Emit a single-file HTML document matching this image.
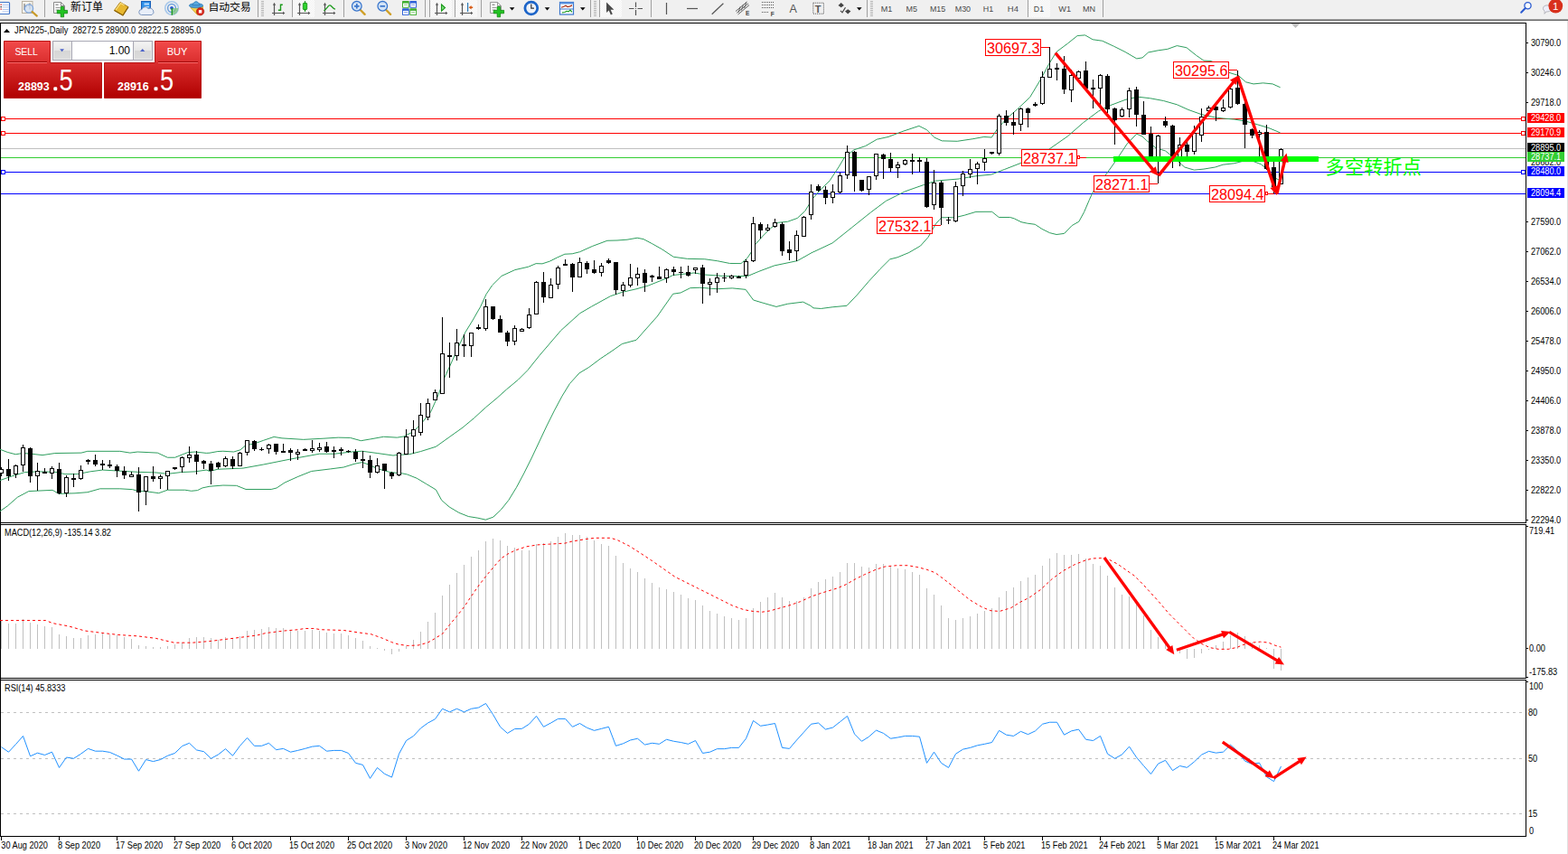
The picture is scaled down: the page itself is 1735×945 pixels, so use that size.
<!DOCTYPE html>
<html><head><meta charset="utf-8"><title>JPN225 Daily</title>
<style>html,body{margin:0;padding:0;background:#fff;overflow:hidden}body{width:1735px;height:945px;position:relative;font-family:"Liberation Sans",sans-serif}</style>
</head><body>
<svg width="1735" height="945" viewBox="0 0 1735 945" style="position:absolute;left:0;top:0;font-family:'Liberation Sans',sans-serif">
<defs><linearGradient id="rg" x1="0" y1="0" x2="0" y2="1"><stop offset="0" stop-color="#f24a4a"/><stop offset="0.35" stop-color="#dc3030"/><stop offset="1" stop-color="#b00000"/></linearGradient><linearGradient id="bg" x1="0" y1="0" x2="0" y2="1"><stop offset="0" stop-color="#f4f4f4"/><stop offset="0.5" stop-color="#e6e6e6"/><stop offset="0.5" stop-color="#d6d6d6"/><stop offset="1" stop-color="#dcdcdc"/></linearGradient><pattern id="chk" width="2" height="2" patternUnits="userSpaceOnUse"><rect width="2" height="2" fill="#f0f0f0"/><rect width="1" height="1" fill="#fff"/><rect x="1" y="1" width="1" height="1" fill="#fff"/></pattern></defs>
<rect width="1735" height="945" fill="#fff"/>
<g shape-rendering="crispEdges" fill="#000">
<rect x="0" y="25" width="1689" height="1"/>
<rect x="0" y="25" width="1" height="901"/>
<rect x="1688" y="25" width="1" height="554"/>
<rect x="1688" y="580" width="1" height="171"/>
<rect x="1688" y="752" width="1" height="174"/>
<rect x="0" y="578" width="1689" height="1"/>
<rect x="0" y="580" width="1689" height="1"/>
<rect x="0" y="750" width="1689" height="1"/>
<rect x="0" y="752" width="1689" height="1"/>
<rect x="0" y="925" width="1689" height="1"/>
</g>
<rect x="1734" y="23" width="1" height="922" fill="#e0e0e0"/>
<polygon points="1428.5,26 1438.5,26 1433.5,31" fill="#c0c0c0"/>
<g shape-rendering="crispEdges">
<rect x="1" y="131" width="1687" height="1" fill="#ff0000"/>
<rect x="1" y="147" width="1687" height="1" fill="#ff0000"/>
<rect x="1" y="164" width="1687" height="1" fill="#c0c0c0"/>
<rect x="1" y="174" width="1687" height="1" fill="#32cd32"/>
<rect x="1" y="190" width="1687" height="1" fill="#0000ff"/>
<rect x="1" y="214" width="1687" height="1" fill="#0000ff"/>
</g>
<polyline points="0,497.25 8.3,500.43 17.29,502.78 24.9,501.54 33.2,502.09 47.03,503.61 60.86,501.54 89.91,501.12 96.83,499.33 132.8,499.33 143.86,501.12 152.16,500.02 174.29,501.12 185.36,506.24 193.66,506.24 207.49,500.71 215.79,500.02 228.24,501.4 232,501.19 240.89,499.56 246.81,499.26 258.67,500 266.07,497.78 272,492.59 280.89,491.11 291.26,487.41 303.11,483.41 312,484.89 335.7,486.37 357.93,485.19 374.22,484.15 387.56,484.44 399.41,487.7 409.78,485.93 424.59,483.26 439.41,484.15 446.81,482.96 457.19,477.78 463.11,471.85 468.23,466.24 476.7,455.66 485.16,436.61 491.51,418.62 497.86,404.87 506.33,385.82 514.79,367.83 523.26,354.07 531.72,339.26 538.07,325.5 544.42,315.98 555.01,305.4 569.82,298.62 584.63,295.24 593.1,291.64 600,291.87 608.3,289.11 616.6,284.96 624.9,281.22 633.2,280.81 641.5,278.73 655.33,272.51 671.93,266.28 683,266.01 694.06,265.18 705.13,263.24 712.05,264.62 721.73,269.74 732.8,275.97 745.24,284.27 760.46,286.34 779.83,286.76 793.66,288.69 807.49,291.46 819.94,291.6 826.86,285.65 832.39,277.35 835.68,270.63 844.15,261.11 852.61,252.65 861.08,246.3 871.66,245.24 882.24,241.43 890.71,233.6 899.17,219.84 907.64,210.32 918.22,199.74 928,184.87 934.35,174.29 944.93,165.82 957.63,161.59 970.33,154.18 983.03,151.43 997.84,145.71 1016.89,139.37 1025.35,143.6 1033.82,152.06 1042.29,155.87 1059.22,156.3 1076.15,153.76 1088.85,151.43 1097.31,152.06 1103.66,142.54 1114.24,130.9 1126.94,119.68 1139.64,107.62 1151.96,87.14 1160.42,71.27 1168.89,57.51 1181.59,47.99 1192.17,39.52 1200.63,38.89 1209.1,43.76 1219.68,45.24 1232.38,51.16 1245.08,57.51 1257.78,64.92 1264.13,63.86 1270.58,57.99 1281.16,55.87 1291.75,54.39 1302.33,50.58 1312.91,52.7 1323.49,61.16 1331.96,67.09 1340.42,67.51 1351.01,74.92 1359.47,80.21 1370.05,83.39 1378.52,90.79 1386.98,92.91 1397.57,91.85 1408.15,92.91 1416.61,96.72" fill="none" stroke="#2e9e5e" stroke-width="1"/>
<polyline points="0,531.56 13.83,526.71 27.67,522.56 41.5,521.87 60.86,522.29 71.93,524.64 85.76,524.64 99.6,521.87 113.43,520.07 138.33,521.46 152.16,522.29 172.91,522.98 185.36,524.36 200.58,522.56 215.79,521.87 228.24,520.07 232,521.48 240.89,519.26 269.04,518.07 291.26,514.07 320.89,508.15 353.48,502.22 369.78,502.22 392,499.7 400.89,499.26 417.19,501.48 434.96,504 440,503.39 452.7,502.75 465.4,499.58 482.33,494.29 497.14,483.7 511.96,473.12 524.66,462.54 537.35,450.9 550.05,440.32 560.63,430.79 573.33,420.21 583.92,409.63 596.61,393.76 620.61,365.71 641.78,346.67 654.48,339.26 675.64,327.62 688.34,323.39 704,319.79 717.16,316.14 738.33,307.67 744.68,304.5 767.96,301.96 780.66,304.07 801.82,305.56 827.22,305.56 839.92,300.26 856.85,293.92 882.24,288.62 899.17,279.1 900,278.84 921.16,268.89 942.33,251.96 963.49,235.03 980.42,222.33 1001.59,211.75 1022.75,204.34 1035.45,200.11 1060.85,197.99 1079.89,194.81 1096.83,193.12 1111.64,187.41 1129.06,180.63 1150.22,170.05 1160.42,165.45 1181.59,150.63 1198.52,135.82 1215.45,123.12 1228.15,116.77 1245.08,110.42 1255.66,107.88 1260,107.3 1272.7,108.78 1287.51,111.53 1302.33,115.77 1315.03,121.48 1329.84,126.77 1344.66,129.95 1353.12,131.01 1365.82,132.06 1378.52,134.18 1391.22,137.78 1403.92,141.59 1416.61,146.88" fill="none" stroke="#2e9e5e" stroke-width="1"/>
<polyline points="0,565.72 8.3,559.91 19.37,550.23 31.82,543.59 58.1,542.35 65.01,546.36 83,545.8 96.83,544.7 110.66,540.82 132.8,540.82 146.63,541.65 152.16,543.31 163.23,544.01 175.68,545.67 185.36,542.21 204.73,542.21 211.64,543.31 218.56,542.62 224.09,539.86 232,538.22 246.81,537.04 261.63,537.33 272,541.48 300.15,541.48 306.07,540 314.96,534.07 329.78,527.41 344.59,521.48 365.33,518.96 380.15,517.04 392,513.33 400.89,511.56 409.78,514.81 417.19,518.52 430.52,522.22 439.41,523.41 440,522.86 450.58,524.97 461.16,529.21 471.75,535.56 482.33,541.9 488.68,553.54 497.14,560.95 507.72,567.3 518.31,571.53 528.89,573.23 537.35,575.13 545.82,572.17 554.29,564.13 562.75,553.54 571.22,539.79 579.68,523.92 588.15,506.98 596.61,488.99 605.08,471.01 613.54,454.07 622.01,438.2 630.48,424.44 641.06,412.8 651.64,406.46 664.34,396.93 677.04,388.47 688.34,380.53 704,376.3 727.32,350 744.68,325.24 753.14,323.97 763.72,318.68 774.31,318.25 793.35,319.74 810.29,318.89 825.1,320.37 833.57,332.01 844.15,335.19 858.96,339.42 871.66,336.24 888.59,334.13 897.06,338.36 900,340.85 908.47,341.48 921.16,339.79 937.04,338.31 948.68,326.03 961.38,311.22 974.07,297.46 984.66,286.88 993.12,284.76 1005.82,279.47 1018.52,272.06 1026.98,262.54 1035.45,247.72 1041.8,240.74 1056.61,240.74 1067.2,238.2 1079.89,234.39 1090,234.29 1097.62,234.29 1105.24,240.48 1117.62,240.48 1122.38,241.9 1130,245.71 1136.67,247.14 1145.24,248.29 1152.86,253.33 1161.43,257.62 1169.05,259.52 1177.62,258.38 1186.19,249.52 1193.81,245.24 1199.52,234.76 1205.24,221.43 1209.05,212.86 1223.92,192.96 1234.5,178.15 1247.2,159.1 1257.78,148.1 1264.13,151.06 1268.47,155.34 1279.05,163.81 1289.63,166.98 1295.98,172.28 1302.33,177.57 1310.79,184.97 1321.38,188.15 1331.96,187.09 1344.66,184.97 1353.12,182.22 1365.82,180.74 1374.29,178.62 1386.98,178.62 1395.45,181.8 1401.8,187.09 1408.15,195.56 1416.61,199.79" fill="none" stroke="#2e9e5e" stroke-width="1"/>
<g shape-rendering="crispEdges">
<rect x="1" y="517" width="1" height="10" fill="#000"/>
<rect x="-1" y="519" width="5" height="5" fill="#000"/>
<rect x="0" y="520" width="3" height="3" fill="#fff"/>
<rect x="9" y="508" width="1" height="24" fill="#000"/>
<rect x="7" y="519" width="5" height="8" fill="#000"/>
<rect x="17" y="514" width="1" height="15" fill="#000"/>
<rect x="15" y="515" width="5" height="10" fill="#000"/>
<rect x="16" y="516" width="3" height="8" fill="#fff"/>
<rect x="25" y="492" width="1" height="30" fill="#000"/>
<rect x="23" y="495" width="5" height="20" fill="#000"/>
<rect x="24" y="496" width="3" height="18" fill="#fff"/>
<rect x="33" y="495" width="1" height="39" fill="#000"/>
<rect x="31" y="496" width="5" height="31" fill="#000"/>
<rect x="41" y="512" width="1" height="31" fill="#000"/>
<rect x="39" y="521" width="5" height="6" fill="#000"/>
<rect x="40" y="522" width="3" height="4" fill="#fff"/>
<rect x="49" y="518" width="1" height="6" fill="#000"/>
<rect x="47" y="522" width="5" height="2" fill="#000"/>
<rect x="57" y="516" width="1" height="14" fill="#000"/>
<rect x="55" y="518" width="5" height="6" fill="#000"/>
<rect x="56" y="519" width="3" height="4" fill="#fff"/>
<rect x="65" y="512" width="1" height="35" fill="#000"/>
<rect x="63" y="519" width="5" height="27" fill="#000"/>
<rect x="73" y="526" width="1" height="24" fill="#000"/>
<rect x="71" y="528" width="5" height="18" fill="#000"/>
<rect x="72" y="529" width="3" height="16" fill="#fff"/>
<rect x="81" y="524" width="1" height="15" fill="#000"/>
<rect x="79" y="529" width="5" height="2" fill="#000"/>
<rect x="89" y="515" width="1" height="16" fill="#000"/>
<rect x="87" y="520" width="5" height="10" fill="#000"/>
<rect x="88" y="521" width="3" height="8" fill="#fff"/>
<rect x="97" y="508" width="1" height="6" fill="#000"/>
<rect x="95" y="509" width="5" height="2" fill="#000"/>
<rect x="105" y="503" width="1" height="13" fill="#000"/>
<rect x="103" y="509" width="5" height="5" fill="#000"/>
<rect x="113" y="509" width="1" height="11" fill="#000"/>
<rect x="111" y="513" width="5" height="2" fill="#000"/>
<rect x="121" y="509" width="1" height="9" fill="#000"/>
<rect x="119" y="514" width="5" height="2" fill="#000"/>
<rect x="129" y="514" width="1" height="14" fill="#000"/>
<rect x="127" y="516" width="5" height="5" fill="#000"/>
<rect x="137" y="516" width="1" height="14" fill="#000"/>
<rect x="135" y="521" width="5" height="5" fill="#000"/>
<rect x="145" y="522" width="1" height="6" fill="#000"/>
<rect x="143" y="525" width="5" height="3" fill="#000"/>
<rect x="144" y="526" width="3" height="1" fill="#fff"/>
<rect x="153" y="517" width="1" height="49" fill="#000"/>
<rect x="151" y="525" width="5" height="20" fill="#000"/>
<rect x="161" y="527" width="1" height="32" fill="#000"/>
<rect x="159" y="527" width="5" height="17" fill="#000"/>
<rect x="160" y="528" width="3" height="15" fill="#fff"/>
<rect x="169" y="516" width="1" height="17" fill="#000"/>
<rect x="167" y="527" width="5" height="3" fill="#000"/>
<rect x="177" y="525" width="1" height="16" fill="#000"/>
<rect x="175" y="527" width="5" height="3" fill="#000"/>
<rect x="176" y="528" width="3" height="1" fill="#fff"/>
<rect x="185" y="521" width="1" height="21" fill="#000"/>
<rect x="183" y="521" width="5" height="6" fill="#000"/>
<rect x="184" y="522" width="3" height="4" fill="#fff"/>
<rect x="193" y="517" width="1" height="3" fill="#000"/>
<rect x="191" y="517" width="5" height="2" fill="#000"/>
<rect x="201" y="505" width="1" height="18" fill="#000"/>
<rect x="199" y="506" width="5" height="11" fill="#000"/>
<rect x="200" y="507" width="3" height="9" fill="#fff"/>
<rect x="209" y="494" width="1" height="18" fill="#000"/>
<rect x="207" y="503" width="5" height="4" fill="#000"/>
<rect x="208" y="504" width="3" height="2" fill="#fff"/>
<rect x="217" y="499" width="1" height="26" fill="#000"/>
<rect x="215" y="503" width="5" height="8" fill="#000"/>
<rect x="225" y="509" width="1" height="10" fill="#000"/>
<rect x="223" y="510" width="5" height="3" fill="#000"/>
<rect x="233" y="510" width="1" height="26" fill="#000"/>
<rect x="231" y="513" width="5" height="8" fill="#000"/>
<rect x="241" y="511" width="1" height="8" fill="#000"/>
<rect x="239" y="512" width="5" height="5" fill="#000"/>
<rect x="249" y="505" width="1" height="12" fill="#000"/>
<rect x="247" y="507" width="5" height="9" fill="#000"/>
<rect x="248" y="508" width="3" height="7" fill="#fff"/>
<rect x="257" y="505" width="1" height="14" fill="#000"/>
<rect x="255" y="508" width="5" height="8" fill="#000"/>
<rect x="265" y="500" width="1" height="16" fill="#000"/>
<rect x="263" y="501" width="5" height="15" fill="#000"/>
<rect x="264" y="502" width="3" height="13" fill="#fff"/>
<rect x="273" y="487" width="1" height="17" fill="#000"/>
<rect x="271" y="487" width="5" height="14" fill="#000"/>
<rect x="272" y="488" width="3" height="12" fill="#fff"/>
<rect x="281" y="487" width="1" height="12" fill="#000"/>
<rect x="279" y="488" width="5" height="9" fill="#000"/>
<rect x="289" y="495" width="1" height="4" fill="#000"/>
<rect x="287" y="497" width="5" height="1" fill="#000"/>
<rect x="297" y="491" width="1" height="11" fill="#000"/>
<rect x="295" y="492" width="5" height="5" fill="#000"/>
<rect x="296" y="493" width="3" height="3" fill="#fff"/>
<rect x="305" y="491" width="1" height="12" fill="#000"/>
<rect x="303" y="491" width="5" height="9" fill="#000"/>
<rect x="313" y="491" width="1" height="10" fill="#000"/>
<rect x="311" y="499" width="5" height="2" fill="#000"/>
<rect x="321" y="496" width="1" height="14" fill="#000"/>
<rect x="319" y="498" width="5" height="3" fill="#000"/>
<rect x="329" y="497" width="1" height="12" fill="#000"/>
<rect x="327" y="500" width="5" height="3" fill="#000"/>
<rect x="328" y="501" width="3" height="1" fill="#fff"/>
<rect x="337" y="496" width="1" height="3" fill="#000"/>
<rect x="335" y="497" width="5" height="2" fill="#000"/>
<rect x="345" y="487" width="1" height="14" fill="#000"/>
<rect x="343" y="496" width="5" height="3" fill="#000"/>
<rect x="344" y="497" width="3" height="1" fill="#fff"/>
<rect x="353" y="490" width="1" height="10" fill="#000"/>
<rect x="351" y="495" width="5" height="3" fill="#000"/>
<rect x="352" y="496" width="3" height="1" fill="#fff"/>
<rect x="361" y="489" width="1" height="12" fill="#000"/>
<rect x="359" y="494" width="5" height="6" fill="#000"/>
<rect x="369" y="494" width="1" height="13" fill="#000"/>
<rect x="367" y="498" width="5" height="2" fill="#000"/>
<rect x="377" y="495" width="1" height="9" fill="#000"/>
<rect x="375" y="497" width="5" height="2" fill="#000"/>
<rect x="385" y="498" width="1" height="3" fill="#000"/>
<rect x="383" y="499" width="5" height="1" fill="#000"/>
<rect x="393" y="497" width="1" height="14" fill="#000"/>
<rect x="391" y="500" width="5" height="8" fill="#000"/>
<rect x="401" y="499" width="1" height="19" fill="#000"/>
<rect x="399" y="508" width="5" height="2" fill="#000"/>
<rect x="409" y="504" width="1" height="25" fill="#000"/>
<rect x="407" y="509" width="5" height="14" fill="#000"/>
<rect x="417" y="507" width="1" height="17" fill="#000"/>
<rect x="415" y="515" width="5" height="8" fill="#000"/>
<rect x="416" y="516" width="3" height="6" fill="#fff"/>
<rect x="425" y="513" width="1" height="28" fill="#000"/>
<rect x="423" y="513" width="5" height="8" fill="#000"/>
<rect x="433" y="522" width="1" height="8" fill="#000"/>
<rect x="431" y="523" width="5" height="4" fill="#000"/>
<rect x="441" y="500" width="1" height="27" fill="#000"/>
<rect x="439" y="501" width="5" height="25" fill="#000"/>
<rect x="440" y="502" width="3" height="23" fill="#fff"/>
<rect x="449" y="475" width="1" height="28" fill="#000"/>
<rect x="447" y="483" width="5" height="20" fill="#000"/>
<rect x="448" y="484" width="3" height="18" fill="#fff"/>
<rect x="457" y="465" width="1" height="37" fill="#000"/>
<rect x="455" y="475" width="5" height="8" fill="#000"/>
<rect x="456" y="476" width="3" height="6" fill="#fff"/>
<rect x="465" y="446" width="1" height="36" fill="#000"/>
<rect x="463" y="459" width="5" height="20" fill="#000"/>
<rect x="464" y="460" width="3" height="18" fill="#fff"/>
<rect x="473" y="441" width="1" height="24" fill="#000"/>
<rect x="471" y="446" width="5" height="16" fill="#000"/>
<rect x="472" y="447" width="3" height="14" fill="#fff"/>
<rect x="481" y="431" width="1" height="12" fill="#000"/>
<rect x="479" y="434" width="5" height="9" fill="#000"/>
<rect x="480" y="435" width="3" height="7" fill="#fff"/>
<rect x="489" y="351" width="1" height="85" fill="#000"/>
<rect x="487" y="391" width="5" height="45" fill="#000"/>
<rect x="488" y="392" width="3" height="43" fill="#fff"/>
<rect x="497" y="379" width="1" height="39" fill="#000"/>
<rect x="495" y="393" width="5" height="2" fill="#000"/>
<rect x="505" y="364" width="1" height="35" fill="#000"/>
<rect x="503" y="379" width="5" height="15" fill="#000"/>
<rect x="504" y="380" width="3" height="13" fill="#fff"/>
<rect x="513" y="370" width="1" height="25" fill="#000"/>
<rect x="511" y="381" width="5" height="2" fill="#000"/>
<rect x="521" y="368" width="1" height="27" fill="#000"/>
<rect x="519" y="368" width="5" height="15" fill="#000"/>
<rect x="520" y="369" width="3" height="13" fill="#fff"/>
<rect x="529" y="359" width="1" height="6" fill="#000"/>
<rect x="527" y="362" width="5" height="2" fill="#000"/>
<rect x="537" y="331" width="1" height="35" fill="#000"/>
<rect x="535" y="339" width="5" height="25" fill="#000"/>
<rect x="536" y="340" width="3" height="23" fill="#fff"/>
<rect x="545" y="339" width="1" height="15" fill="#000"/>
<rect x="543" y="339" width="5" height="14" fill="#000"/>
<rect x="553" y="349" width="1" height="19" fill="#000"/>
<rect x="551" y="353" width="5" height="15" fill="#000"/>
<rect x="561" y="366" width="1" height="17" fill="#000"/>
<rect x="559" y="368" width="5" height="10" fill="#000"/>
<rect x="569" y="360" width="1" height="22" fill="#000"/>
<rect x="567" y="363" width="5" height="15" fill="#000"/>
<rect x="568" y="364" width="3" height="13" fill="#fff"/>
<rect x="577" y="363" width="1" height="4" fill="#000"/>
<rect x="575" y="364" width="5" height="3" fill="#000"/>
<rect x="576" y="365" width="3" height="1" fill="#fff"/>
<rect x="585" y="341" width="1" height="23" fill="#000"/>
<rect x="583" y="348" width="5" height="15" fill="#000"/>
<rect x="584" y="349" width="3" height="13" fill="#fff"/>
<rect x="593" y="311" width="1" height="37" fill="#000"/>
<rect x="591" y="312" width="5" height="36" fill="#000"/>
<rect x="592" y="313" width="3" height="34" fill="#fff"/>
<rect x="601" y="301" width="1" height="34" fill="#000"/>
<rect x="599" y="312" width="5" height="17" fill="#000"/>
<rect x="609" y="308" width="1" height="22" fill="#000"/>
<rect x="607" y="315" width="5" height="15" fill="#000"/>
<rect x="608" y="316" width="3" height="13" fill="#fff"/>
<rect x="617" y="294" width="1" height="26" fill="#000"/>
<rect x="615" y="296" width="5" height="19" fill="#000"/>
<rect x="616" y="297" width="3" height="17" fill="#fff"/>
<rect x="625" y="287" width="1" height="7" fill="#000"/>
<rect x="623" y="292" width="5" height="2" fill="#000"/>
<rect x="633" y="291" width="1" height="32" fill="#000"/>
<rect x="631" y="292" width="5" height="15" fill="#000"/>
<rect x="641" y="285" width="1" height="22" fill="#000"/>
<rect x="639" y="290" width="5" height="17" fill="#000"/>
<rect x="640" y="291" width="3" height="15" fill="#fff"/>
<rect x="649" y="289" width="1" height="14" fill="#000"/>
<rect x="647" y="291" width="5" height="7" fill="#000"/>
<rect x="657" y="288" width="1" height="15" fill="#000"/>
<rect x="655" y="298" width="5" height="4" fill="#000"/>
<rect x="665" y="291" width="1" height="15" fill="#000"/>
<rect x="663" y="294" width="5" height="8" fill="#000"/>
<rect x="664" y="295" width="3" height="6" fill="#fff"/>
<rect x="673" y="286" width="1" height="6" fill="#000"/>
<rect x="671" y="288" width="5" height="3" fill="#000"/>
<rect x="681" y="290" width="1" height="36" fill="#000"/>
<rect x="679" y="290" width="5" height="31" fill="#000"/>
<rect x="689" y="312" width="1" height="16" fill="#000"/>
<rect x="687" y="315" width="5" height="7" fill="#000"/>
<rect x="688" y="316" width="3" height="5" fill="#fff"/>
<rect x="697" y="292" width="1" height="26" fill="#000"/>
<rect x="695" y="307" width="5" height="9" fill="#000"/>
<rect x="696" y="308" width="3" height="7" fill="#fff"/>
<rect x="705" y="296" width="1" height="20" fill="#000"/>
<rect x="703" y="303" width="5" height="5" fill="#000"/>
<rect x="704" y="304" width="3" height="3" fill="#fff"/>
<rect x="713" y="298" width="1" height="25" fill="#000"/>
<rect x="711" y="302" width="5" height="11" fill="#000"/>
<rect x="721" y="304" width="1" height="8" fill="#000"/>
<rect x="719" y="305" width="5" height="2" fill="#000"/>
<rect x="729" y="295" width="1" height="14" fill="#000"/>
<rect x="727" y="306" width="5" height="3" fill="#000"/>
<rect x="737" y="297" width="1" height="16" fill="#000"/>
<rect x="735" y="298" width="5" height="10" fill="#000"/>
<rect x="736" y="299" width="3" height="8" fill="#fff"/>
<rect x="745" y="295" width="1" height="10" fill="#000"/>
<rect x="743" y="298" width="5" height="3" fill="#000"/>
<rect x="753" y="295" width="1" height="13" fill="#000"/>
<rect x="751" y="301" width="5" height="1" fill="#000"/>
<rect x="761" y="294" width="1" height="12" fill="#000"/>
<rect x="759" y="301" width="5" height="4" fill="#000"/>
<rect x="769" y="296" width="1" height="7" fill="#000"/>
<rect x="767" y="296" width="5" height="3" fill="#000"/>
<rect x="768" y="297" width="3" height="1" fill="#fff"/>
<rect x="777" y="293" width="1" height="43" fill="#000"/>
<rect x="775" y="296" width="5" height="18" fill="#000"/>
<rect x="785" y="308" width="1" height="19" fill="#000"/>
<rect x="783" y="312" width="5" height="3" fill="#000"/>
<rect x="784" y="313" width="3" height="1" fill="#fff"/>
<rect x="793" y="302" width="1" height="22" fill="#000"/>
<rect x="791" y="307" width="5" height="6" fill="#000"/>
<rect x="792" y="308" width="3" height="4" fill="#fff"/>
<rect x="801" y="302" width="1" height="10" fill="#000"/>
<rect x="799" y="307" width="5" height="1" fill="#000"/>
<rect x="809" y="304" width="1" height="5" fill="#000"/>
<rect x="807" y="305" width="5" height="3" fill="#000"/>
<rect x="808" y="306" width="3" height="1" fill="#fff"/>
<rect x="817" y="305" width="1" height="3" fill="#000"/>
<rect x="815" y="306" width="5" height="2" fill="#000"/>
<rect x="825" y="287" width="1" height="21" fill="#000"/>
<rect x="823" y="289" width="5" height="16" fill="#000"/>
<rect x="824" y="290" width="3" height="14" fill="#fff"/>
<rect x="833" y="240" width="1" height="50" fill="#000"/>
<rect x="831" y="247" width="5" height="42" fill="#000"/>
<rect x="832" y="248" width="3" height="40" fill="#fff"/>
<rect x="841" y="246" width="1" height="18" fill="#000"/>
<rect x="839" y="248" width="5" height="7" fill="#000"/>
<rect x="849" y="248" width="1" height="8" fill="#000"/>
<rect x="847" y="252" width="5" height="3" fill="#000"/>
<rect x="848" y="253" width="3" height="1" fill="#fff"/>
<rect x="857" y="242" width="1" height="10" fill="#000"/>
<rect x="855" y="246" width="5" height="5" fill="#000"/>
<rect x="856" y="247" width="3" height="3" fill="#fff"/>
<rect x="865" y="246" width="1" height="37" fill="#000"/>
<rect x="863" y="248" width="5" height="30" fill="#000"/>
<rect x="873" y="267" width="1" height="21" fill="#000"/>
<rect x="871" y="276" width="5" height="4" fill="#000"/>
<rect x="881" y="255" width="1" height="34" fill="#000"/>
<rect x="879" y="260" width="5" height="18" fill="#000"/>
<rect x="880" y="261" width="3" height="16" fill="#fff"/>
<rect x="889" y="239" width="1" height="23" fill="#000"/>
<rect x="887" y="240" width="5" height="22" fill="#000"/>
<rect x="888" y="241" width="3" height="20" fill="#fff"/>
<rect x="897" y="204" width="1" height="39" fill="#000"/>
<rect x="895" y="212" width="5" height="26" fill="#000"/>
<rect x="896" y="213" width="3" height="24" fill="#fff"/>
<rect x="905" y="204" width="1" height="8" fill="#000"/>
<rect x="903" y="206" width="5" height="5" fill="#000"/>
<rect x="913" y="206" width="1" height="20" fill="#000"/>
<rect x="911" y="210" width="5" height="9" fill="#000"/>
<rect x="921" y="204" width="1" height="21" fill="#000"/>
<rect x="919" y="212" width="5" height="7" fill="#000"/>
<rect x="920" y="213" width="3" height="5" fill="#fff"/>
<rect x="929" y="191" width="1" height="23" fill="#000"/>
<rect x="927" y="194" width="5" height="19" fill="#000"/>
<rect x="928" y="195" width="3" height="17" fill="#fff"/>
<rect x="937" y="161" width="1" height="37" fill="#000"/>
<rect x="935" y="168" width="5" height="26" fill="#000"/>
<rect x="936" y="169" width="3" height="24" fill="#fff"/>
<rect x="945" y="167" width="1" height="45" fill="#000"/>
<rect x="943" y="168" width="5" height="27" fill="#000"/>
<rect x="953" y="199" width="1" height="13" fill="#000"/>
<rect x="951" y="199" width="5" height="12" fill="#000"/>
<rect x="961" y="195" width="1" height="21" fill="#000"/>
<rect x="959" y="195" width="5" height="15" fill="#000"/>
<rect x="960" y="196" width="3" height="13" fill="#fff"/>
<rect x="969" y="170" width="1" height="29" fill="#000"/>
<rect x="967" y="170" width="5" height="25" fill="#000"/>
<rect x="968" y="171" width="3" height="23" fill="#fff"/>
<rect x="977" y="170" width="1" height="28" fill="#000"/>
<rect x="975" y="171" width="5" height="5" fill="#000"/>
<rect x="985" y="169" width="1" height="21" fill="#000"/>
<rect x="983" y="176" width="5" height="10" fill="#000"/>
<rect x="993" y="179" width="1" height="18" fill="#000"/>
<rect x="991" y="182" width="5" height="4" fill="#000"/>
<rect x="992" y="183" width="3" height="2" fill="#fff"/>
<rect x="1001" y="176" width="1" height="7" fill="#000"/>
<rect x="999" y="177" width="5" height="5" fill="#000"/>
<rect x="1000" y="178" width="3" height="3" fill="#fff"/>
<rect x="1009" y="170" width="1" height="23" fill="#000"/>
<rect x="1007" y="177" width="5" height="2" fill="#000"/>
<rect x="1017" y="174" width="1" height="16" fill="#000"/>
<rect x="1015" y="177" width="5" height="2" fill="#000"/>
<rect x="1025" y="175" width="1" height="55" fill="#000"/>
<rect x="1023" y="179" width="5" height="50" fill="#000"/>
<rect x="1033" y="188" width="1" height="44" fill="#000"/>
<rect x="1031" y="202" width="5" height="25" fill="#000"/>
<rect x="1032" y="203" width="3" height="23" fill="#fff"/>
<rect x="1041" y="200" width="1" height="49" fill="#000"/>
<rect x="1039" y="202" width="5" height="28" fill="#000"/>
<rect x="1049" y="240" width="1" height="8" fill="#000"/>
<rect x="1047" y="243" width="5" height="1" fill="#000"/>
<rect x="1057" y="201" width="1" height="45" fill="#000"/>
<rect x="1055" y="206" width="5" height="39" fill="#000"/>
<rect x="1056" y="207" width="3" height="37" fill="#fff"/>
<rect x="1065" y="189" width="1" height="28" fill="#000"/>
<rect x="1063" y="192" width="5" height="14" fill="#000"/>
<rect x="1064" y="193" width="3" height="12" fill="#fff"/>
<rect x="1073" y="176" width="1" height="21" fill="#000"/>
<rect x="1071" y="187" width="5" height="6" fill="#000"/>
<rect x="1072" y="188" width="3" height="4" fill="#fff"/>
<rect x="1081" y="179" width="1" height="25" fill="#000"/>
<rect x="1079" y="181" width="5" height="6" fill="#000"/>
<rect x="1080" y="182" width="3" height="4" fill="#fff"/>
<rect x="1089" y="165" width="1" height="24" fill="#000"/>
<rect x="1087" y="175" width="5" height="5" fill="#000"/>
<rect x="1088" y="176" width="3" height="3" fill="#fff"/>
<rect x="1097" y="168" width="1" height="3" fill="#000"/>
<rect x="1095" y="168" width="5" height="2" fill="#000"/>
<rect x="1105" y="126" width="1" height="46" fill="#000"/>
<rect x="1103" y="128" width="5" height="42" fill="#000"/>
<rect x="1104" y="129" width="3" height="40" fill="#fff"/>
<rect x="1113" y="122" width="1" height="17" fill="#000"/>
<rect x="1111" y="128" width="5" height="8" fill="#000"/>
<rect x="1121" y="124" width="1" height="25" fill="#000"/>
<rect x="1119" y="135" width="5" height="4" fill="#000"/>
<rect x="1129" y="119" width="1" height="26" fill="#000"/>
<rect x="1127" y="120" width="5" height="18" fill="#000"/>
<rect x="1128" y="121" width="3" height="16" fill="#fff"/>
<rect x="1137" y="119" width="1" height="22" fill="#000"/>
<rect x="1135" y="120" width="5" height="5" fill="#000"/>
<rect x="1145" y="113" width="1" height="5" fill="#000"/>
<rect x="1143" y="115" width="5" height="2" fill="#000"/>
<rect x="1153" y="79" width="1" height="37" fill="#000"/>
<rect x="1151" y="85" width="5" height="30" fill="#000"/>
<rect x="1152" y="86" width="3" height="28" fill="#fff"/>
<rect x="1161" y="52" width="1" height="34" fill="#000"/>
<rect x="1159" y="76" width="5" height="10" fill="#000"/>
<rect x="1160" y="77" width="3" height="8" fill="#fff"/>
<rect x="1169" y="70" width="1" height="19" fill="#000"/>
<rect x="1167" y="75" width="5" height="2" fill="#000"/>
<rect x="1177" y="62" width="1" height="42" fill="#000"/>
<rect x="1175" y="76" width="5" height="23" fill="#000"/>
<rect x="1185" y="77" width="1" height="36" fill="#000"/>
<rect x="1183" y="83" width="5" height="17" fill="#000"/>
<rect x="1184" y="84" width="3" height="15" fill="#fff"/>
<rect x="1193" y="78" width="1" height="9" fill="#000"/>
<rect x="1191" y="79" width="5" height="8" fill="#000"/>
<rect x="1192" y="80" width="3" height="6" fill="#fff"/>
<rect x="1201" y="68" width="1" height="30" fill="#000"/>
<rect x="1199" y="78" width="5" height="20" fill="#000"/>
<rect x="1209" y="88" width="1" height="32" fill="#000"/>
<rect x="1207" y="97" width="5" height="2" fill="#000"/>
<rect x="1217" y="82" width="1" height="34" fill="#000"/>
<rect x="1215" y="83" width="5" height="15" fill="#000"/>
<rect x="1216" y="84" width="3" height="13" fill="#fff"/>
<rect x="1225" y="82" width="1" height="43" fill="#000"/>
<rect x="1223" y="84" width="5" height="37" fill="#000"/>
<rect x="1233" y="119" width="1" height="41" fill="#000"/>
<rect x="1231" y="120" width="5" height="13" fill="#000"/>
<rect x="1241" y="119" width="1" height="11" fill="#000"/>
<rect x="1239" y="121" width="5" height="8" fill="#000"/>
<rect x="1240" y="122" width="3" height="6" fill="#fff"/>
<rect x="1249" y="97" width="1" height="33" fill="#000"/>
<rect x="1247" y="100" width="5" height="21" fill="#000"/>
<rect x="1248" y="101" width="3" height="19" fill="#fff"/>
<rect x="1257" y="96" width="1" height="44" fill="#000"/>
<rect x="1255" y="99" width="5" height="28" fill="#000"/>
<rect x="1265" y="112" width="1" height="37" fill="#000"/>
<rect x="1263" y="127" width="5" height="22" fill="#000"/>
<rect x="1273" y="140" width="1" height="35" fill="#000"/>
<rect x="1271" y="148" width="5" height="26" fill="#000"/>
<rect x="1281" y="149" width="1" height="54" fill="#000"/>
<rect x="1279" y="150" width="5" height="25" fill="#000"/>
<rect x="1280" y="151" width="3" height="23" fill="#fff"/>
<rect x="1289" y="129" width="1" height="12" fill="#000"/>
<rect x="1287" y="134" width="5" height="5" fill="#000"/>
<rect x="1297" y="138" width="1" height="48" fill="#000"/>
<rect x="1295" y="139" width="5" height="35" fill="#000"/>
<rect x="1305" y="152" width="1" height="32" fill="#000"/>
<rect x="1303" y="160" width="5" height="14" fill="#000"/>
<rect x="1304" y="161" width="3" height="12" fill="#fff"/>
<rect x="1313" y="156" width="1" height="17" fill="#000"/>
<rect x="1311" y="160" width="5" height="8" fill="#000"/>
<rect x="1321" y="139" width="1" height="32" fill="#000"/>
<rect x="1319" y="147" width="5" height="21" fill="#000"/>
<rect x="1320" y="148" width="3" height="19" fill="#fff"/>
<rect x="1329" y="120" width="1" height="37" fill="#000"/>
<rect x="1327" y="129" width="5" height="21" fill="#000"/>
<rect x="1328" y="130" width="3" height="19" fill="#fff"/>
<rect x="1337" y="117" width="1" height="7" fill="#000"/>
<rect x="1335" y="119" width="5" height="4" fill="#000"/>
<rect x="1336" y="120" width="3" height="2" fill="#fff"/>
<rect x="1345" y="117" width="1" height="17" fill="#000"/>
<rect x="1343" y="118" width="5" height="4" fill="#000"/>
<rect x="1353" y="110" width="1" height="14" fill="#000"/>
<rect x="1351" y="119" width="5" height="4" fill="#000"/>
<rect x="1352" y="120" width="3" height="2" fill="#fff"/>
<rect x="1361" y="97" width="1" height="23" fill="#000"/>
<rect x="1359" y="98" width="5" height="21" fill="#000"/>
<rect x="1360" y="99" width="3" height="19" fill="#fff"/>
<rect x="1369" y="78" width="1" height="38" fill="#000"/>
<rect x="1367" y="97" width="5" height="18" fill="#000"/>
<rect x="1377" y="113" width="1" height="51" fill="#000"/>
<rect x="1375" y="115" width="5" height="23" fill="#000"/>
<rect x="1385" y="142" width="1" height="11" fill="#000"/>
<rect x="1383" y="143" width="5" height="7" fill="#000"/>
<rect x="1393" y="144" width="1" height="29" fill="#000"/>
<rect x="1391" y="146" width="5" height="3" fill="#000"/>
<rect x="1392" y="147" width="3" height="1" fill="#fff"/>
<rect x="1401" y="138" width="1" height="50" fill="#000"/>
<rect x="1399" y="146" width="5" height="41" fill="#000"/>
<rect x="1409" y="179" width="1" height="36" fill="#000"/>
<rect x="1407" y="185" width="5" height="22" fill="#000"/>
<rect x="1417" y="164" width="1" height="40" fill="#000"/>
<rect x="1415" y="165" width="5" height="39" fill="#000"/>
<rect x="1416" y="166" width="3" height="37" fill="#fff"/>
</g>
<rect x="1232" y="173" width="227" height="6" fill="#00ff00" shape-rendering="crispEdges"/>
<text x="1466.6" y="191.8" font-size="21" fill="#00ff00" letter-spacing="0.3" style="font-family:'Liberation Sans','Noto Sans CJK SC',sans-serif">多空转折点</text>
<line x1="1167.8" y1="58.6" x2="1277.83" y2="190.09" stroke="#ff0000" stroke-width="3.4" stroke-linecap="butt"/><polygon points="1281.6,194.6 1271.86,189.97 1278.76,184.2" fill="#ff0000"/>
<line x1="1281.9" y1="194.4" x2="1366.93" y2="88.19" stroke="#ff0000" stroke-width="3.4" stroke-linecap="butt"/><polygon points="1370.6,83.6 1367.99,94.06 1360.96,88.44" fill="#ff0000"/>
<line x1="1369.4" y1="84.4" x2="1410.96" y2="210.32" stroke="#ff0000" stroke-width="3.4" stroke-linecap="butt"/><polygon points="1412.8,215.9 1405.46,208 1414,205.18" fill="#ff0000"/>
<line x1="1412.8" y1="214.6" x2="1422.23" y2="175.22" stroke="#ff0000" stroke-width="3.4" stroke-linecap="butt"/><polygon points="1423.6,169.5 1425.69,180.08 1416.94,177.98" fill="#ff0000"/>
<rect x="1090.5" y="43.5" width="61" height="18" fill="#fff" stroke="#ff0000" stroke-width="1" shape-rendering="crispEdges"/><line x1="1152" y1="52.5" x2="1161" y2="52.5" stroke="#ff0000" stroke-width="1" shape-rendering="crispEdges"/><text transform="translate(1121.2,59.2) scale(1,1.05)" font-size="16.2" fill="#ff0000" text-anchor="middle">30697.3</text>
<rect x="1130.5" y="165.5" width="61" height="18" fill="#fff" stroke="#ff0000" stroke-width="1" shape-rendering="crispEdges"/><rect x="1192.5" y="172.5" width="2" height="3" fill="#fff" stroke="#ff0000" stroke-width="1" shape-rendering="crispEdges"/><line x1="1195" y1="174.5" x2="1202" y2="174.5" stroke="#ff0000" stroke-width="1" shape-rendering="crispEdges"/><text transform="translate(1161.2,181.2) scale(1,1.05)" font-size="16.2" fill="#ff0000" text-anchor="middle">28737.1</text>
<rect x="1210.5" y="194.5" width="61" height="18" fill="#fff" stroke="#ff0000" stroke-width="1" shape-rendering="crispEdges"/><line x1="1272" y1="203.5" x2="1281" y2="203.5" stroke="#ff0000" stroke-width="1" shape-rendering="crispEdges"/><text transform="translate(1241.2,210.2) scale(1,1.05)" font-size="16.2" fill="#ff0000" text-anchor="middle">28271.1</text>
<rect x="970.5" y="240.5" width="61" height="18" fill="#fff" stroke="#ff0000" stroke-width="1" shape-rendering="crispEdges"/><line x1="1032" y1="249.5" x2="1041" y2="249.5" stroke="#ff0000" stroke-width="1" shape-rendering="crispEdges"/><text transform="translate(1001.2,256.2) scale(1,1.05)" font-size="16.2" fill="#ff0000" text-anchor="middle">27532.1</text>
<rect x="1298.5" y="68.5" width="61" height="18" fill="#fff" stroke="#ff0000" stroke-width="1" shape-rendering="crispEdges"/><line x1="1360" y1="77.5" x2="1369" y2="77.5" stroke="#ff0000" stroke-width="1" shape-rendering="crispEdges"/><text transform="translate(1329.2,84.2) scale(1,1.05)" font-size="16.2" fill="#ff0000" text-anchor="middle">30295.6</text>
<rect x="1338.5" y="205.5" width="61" height="18" fill="#fff" stroke="#ff0000" stroke-width="1" shape-rendering="crispEdges"/><rect x="1400.5" y="212.5" width="2" height="3" fill="#fff" stroke="#ff0000" stroke-width="1" shape-rendering="crispEdges"/><line x1="1403" y1="214.5" x2="1410" y2="214.5" stroke="#ff0000" stroke-width="1" shape-rendering="crispEdges"/><text transform="translate(1369.2,221.2) scale(1,1.05)" font-size="16.2" fill="#ff0000" text-anchor="middle">28094.4</text>
<g shape-rendering="crispEdges" fill="#c0c0c0">
<rect x="1" y="687" width="1" height="31"/>
<rect x="9" y="690" width="1" height="28"/>
<rect x="17" y="690" width="1" height="28"/>
<rect x="25" y="685" width="1" height="33"/>
<rect x="33" y="689" width="1" height="29"/>
<rect x="41" y="691" width="1" height="27"/>
<rect x="49" y="693" width="1" height="25"/>
<rect x="57" y="694" width="1" height="24"/>
<rect x="65" y="702" width="1" height="16"/>
<rect x="73" y="704" width="1" height="14"/>
<rect x="81" y="706" width="1" height="12"/>
<rect x="89" y="706" width="1" height="12"/>
<rect x="97" y="703" width="1" height="15"/>
<rect x="105" y="702" width="1" height="16"/>
<rect x="113" y="701" width="1" height="17"/>
<rect x="121" y="702" width="1" height="16"/>
<rect x="129" y="703" width="1" height="15"/>
<rect x="137" y="705" width="1" height="13"/>
<rect x="145" y="707" width="1" height="11"/>
<rect x="153" y="714" width="1" height="4"/>
<rect x="161" y="715" width="1" height="3"/>
<rect x="169" y="716" width="1" height="2"/>
<rect x="177" y="716" width="1" height="2"/>
<rect x="185" y="715" width="1" height="3"/>
<rect x="193" y="713" width="1" height="5"/>
<rect x="201" y="711" width="1" height="7"/>
<rect x="209" y="706" width="1" height="12"/>
<rect x="217" y="705" width="1" height="13"/>
<rect x="225" y="705" width="1" height="13"/>
<rect x="233" y="706" width="1" height="12"/>
<rect x="241" y="708" width="1" height="10"/>
<rect x="249" y="705" width="1" height="13"/>
<rect x="257" y="706" width="1" height="12"/>
<rect x="265" y="704" width="1" height="14"/>
<rect x="273" y="698" width="1" height="20"/>
<rect x="281" y="697" width="1" height="21"/>
<rect x="289" y="696" width="1" height="22"/>
<rect x="297" y="694" width="1" height="24"/>
<rect x="305" y="695" width="1" height="23"/>
<rect x="313" y="695" width="1" height="23"/>
<rect x="321" y="697" width="1" height="21"/>
<rect x="329" y="698" width="1" height="20"/>
<rect x="337" y="698" width="1" height="20"/>
<rect x="345" y="697" width="1" height="21"/>
<rect x="353" y="698" width="1" height="20"/>
<rect x="361" y="700" width="1" height="18"/>
<rect x="369" y="701" width="1" height="17"/>
<rect x="377" y="701" width="1" height="17"/>
<rect x="385" y="703" width="1" height="15"/>
<rect x="393" y="706" width="1" height="12"/>
<rect x="401" y="709" width="1" height="9"/>
<rect x="409" y="715" width="1" height="3"/>
<rect x="417" y="717" width="1" height="1"/>
<rect x="425" y="718" width="1" height="2"/>
<rect x="433" y="718" width="1" height="6"/>
<rect x="441" y="718" width="1" height="3"/>
<rect x="449" y="715" width="1" height="3"/>
<rect x="457" y="708" width="1" height="10"/>
<rect x="465" y="699" width="1" height="19"/>
<rect x="473" y="688" width="1" height="30"/>
<rect x="481" y="678" width="1" height="40"/>
<rect x="489" y="659" width="1" height="59"/>
<rect x="497" y="647" width="1" height="71"/>
<rect x="505" y="634" width="1" height="84"/>
<rect x="513" y="625" width="1" height="93"/>
<rect x="521" y="616" width="1" height="102"/>
<rect x="529" y="609" width="1" height="109"/>
<rect x="537" y="599" width="1" height="119"/>
<rect x="545" y="596" width="1" height="122"/>
<rect x="553" y="598" width="1" height="120"/>
<rect x="561" y="604" width="1" height="114"/>
<rect x="569" y="606" width="1" height="112"/>
<rect x="577" y="609" width="1" height="109"/>
<rect x="585" y="609" width="1" height="109"/>
<rect x="593" y="602" width="1" height="116"/>
<rect x="601" y="601" width="1" height="117"/>
<rect x="609" y="599" width="1" height="119"/>
<rect x="617" y="594" width="1" height="124"/>
<rect x="625" y="590" width="1" height="128"/>
<rect x="633" y="592" width="1" height="126"/>
<rect x="641" y="592" width="1" height="126"/>
<rect x="649" y="594" width="1" height="124"/>
<rect x="657" y="598" width="1" height="120"/>
<rect x="665" y="602" width="1" height="116"/>
<rect x="673" y="604" width="1" height="114"/>
<rect x="681" y="615" width="1" height="103"/>
<rect x="689" y="623" width="1" height="95"/>
<rect x="697" y="629" width="1" height="89"/>
<rect x="705" y="633" width="1" height="85"/>
<rect x="713" y="640" width="1" height="78"/>
<rect x="721" y="645" width="1" height="73"/>
<rect x="729" y="650" width="1" height="68"/>
<rect x="737" y="652" width="1" height="66"/>
<rect x="745" y="655" width="1" height="63"/>
<rect x="753" y="658" width="1" height="60"/>
<rect x="761" y="662" width="1" height="56"/>
<rect x="769" y="664" width="1" height="54"/>
<rect x="777" y="670" width="1" height="48"/>
<rect x="785" y="676" width="1" height="42"/>
<rect x="793" y="679" width="1" height="39"/>
<rect x="801" y="682" width="1" height="36"/>
<rect x="809" y="684" width="1" height="34"/>
<rect x="817" y="686" width="1" height="32"/>
<rect x="825" y="684" width="1" height="34"/>
<rect x="833" y="673" width="1" height="45"/>
<rect x="841" y="666" width="1" height="52"/>
<rect x="849" y="661" width="1" height="57"/>
<rect x="857" y="656" width="1" height="62"/>
<rect x="865" y="661" width="1" height="57"/>
<rect x="873" y="665" width="1" height="53"/>
<rect x="881" y="665" width="1" height="53"/>
<rect x="889" y="661" width="1" height="57"/>
<rect x="897" y="651" width="1" height="67"/>
<rect x="905" y="644" width="1" height="74"/>
<rect x="913" y="641" width="1" height="77"/>
<rect x="921" y="638" width="1" height="80"/>
<rect x="929" y="633" width="1" height="85"/>
<rect x="937" y="623" width="1" height="95"/>
<rect x="945" y="623" width="1" height="95"/>
<rect x="953" y="627" width="1" height="91"/>
<rect x="961" y="628" width="1" height="90"/>
<rect x="969" y="624" width="1" height="94"/>
<rect x="977" y="624" width="1" height="94"/>
<rect x="985" y="627" width="1" height="91"/>
<rect x="993" y="629" width="1" height="89"/>
<rect x="1001" y="630" width="1" height="88"/>
<rect x="1009" y="633" width="1" height="85"/>
<rect x="1017" y="636" width="1" height="82"/>
<rect x="1025" y="651" width="1" height="67"/>
<rect x="1033" y="658" width="1" height="60"/>
<rect x="1041" y="670" width="1" height="48"/>
<rect x="1049" y="684" width="1" height="34"/>
<rect x="1057" y="686" width="1" height="32"/>
<rect x="1065" y="684" width="1" height="34"/>
<rect x="1073" y="682" width="1" height="36"/>
<rect x="1081" y="679" width="1" height="39"/>
<rect x="1089" y="676" width="1" height="42"/>
<rect x="1097" y="673" width="1" height="45"/>
<rect x="1105" y="661" width="1" height="57"/>
<rect x="1113" y="654" width="1" height="64"/>
<rect x="1121" y="650" width="1" height="68"/>
<rect x="1129" y="643" width="1" height="75"/>
<rect x="1137" y="639" width="1" height="79"/>
<rect x="1145" y="636" width="1" height="82"/>
<rect x="1153" y="626" width="1" height="92"/>
<rect x="1161" y="618" width="1" height="100"/>
<rect x="1169" y="612" width="1" height="106"/>
<rect x="1177" y="614" width="1" height="104"/>
<rect x="1185" y="614" width="1" height="104"/>
<rect x="1193" y="613" width="1" height="105"/>
<rect x="1201" y="618" width="1" height="100"/>
<rect x="1209" y="624" width="1" height="94"/>
<rect x="1217" y="626" width="1" height="92"/>
<rect x="1225" y="637" width="1" height="81"/>
<rect x="1233" y="650" width="1" height="68"/>
<rect x="1241" y="658" width="1" height="60"/>
<rect x="1249" y="660" width="1" height="58"/>
<rect x="1257" y="666" width="1" height="52"/>
<rect x="1265" y="681" width="1" height="37"/>
<rect x="1273" y="697" width="1" height="21"/>
<rect x="1281" y="705" width="1" height="13"/>
<rect x="1289" y="713" width="1" height="5"/>
<rect x="1297" y="718" width="1" height="3"/>
<rect x="1305" y="718" width="1" height="5"/>
<rect x="1313" y="718" width="1" height="11"/>
<rect x="1321" y="718" width="1" height="10"/>
<rect x="1329" y="718" width="1" height="5"/>
<rect x="1337" y="718" width="1" height="1"/>
<rect x="1345" y="714" width="1" height="4"/>
<rect x="1353" y="710" width="1" height="8"/>
<rect x="1361" y="703" width="1" height="15"/>
<rect x="1369" y="700" width="1" height="18"/>
<rect x="1377" y="704" width="1" height="14"/>
<rect x="1385" y="711" width="1" height="7"/>
<rect x="1393" y="714" width="1" height="4"/>
<rect x="1401" y="717" width="1" height="1"/>
<rect x="1409" y="718" width="1" height="22"/>
<rect x="1417" y="718" width="1" height="24"/>
</g>
<polyline points="0,686.59 50.72,686.59 58.33,689.63 76.08,692.93 93.83,698 114.12,700.53 131.87,702.56 152.16,703.83 172.45,706.37 192.74,711.18 213.03,711.18 233.31,709.41 253.6,706.87 273.89,704.34 284.03,703.07 294.18,700.53 314.47,698 329.68,696.73 337.29,695.46 347.44,695.46 355.04,696.73 380.4,697.49 395.62,699.77 410.84,701.8 423.52,706.37 433.55,710.68 441.41,713.21 451.56,714.48 462.97,713.97 473.11,711.18 480.72,706.87 489.6,701.29 497.2,691.66 504.81,682.78 513.69,671.37 521.3,659.96 530.17,647.28 539.05,635.86 546.66,626.99 554.27,618.11 561.87,613.04 569.48,609.24 582.16,604.93 594.84,602.9 607.52,602.14 625.27,601.12 632.88,599.09 648.1,596.56 658.24,595.29 675.99,595.29 683.6,597.82 696.28,604.16 708.96,612.28 721.64,620.65 734.32,629.52 747,638.4 759.68,644.74 772.36,651.08 785.04,657.42 797.72,663.76 810.4,670.1 823.08,674.67 833.23,676.44 843.37,677.2 853.52,675.68 860,673.4 861.12,673.4 872.68,670.1 885.36,665.79 898.04,659.96 910.72,655.65 925.94,651.08 936.08,646.77 946.22,640.94 956.37,635.86 969.05,630.29 979.19,626.99 991.87,625.72 1004.55,625.72 1014.7,627.5 1024.84,630.03 1034.99,633.84 1047.67,643.47 1060.35,653.62 1073.03,663.76 1085.71,671.37 1095.85,675.68 1105.99,676.44 1118.67,672.64 1128.82,666.3 1138.96,661.22 1151.64,652.35 1164.32,640.43 1177,631.3 1189.68,624.45 1201.48,619.81 1209.26,617.96 1218.52,617.59 1227.78,619.44 1237.04,624.44 1246.3,630.93 1255.56,637.41 1264.81,646.67 1274.07,656.85 1283.33,667.04 1292.59,678.15 1301.85,687.41 1311.11,696.67 1320.37,705.93 1329.63,712.41 1338.89,716.67 1348.15,718.33 1359.26,718.33 1368.52,716.48 1375.93,713.33 1385.19,711.11 1394.44,710.19 1403.7,711.11 1411.11,714.26 1417.41,716.11" fill="none" stroke="#ff0000" stroke-width="1" stroke-dasharray="3,3"/>
<line x1="1221.9" y1="617" x2="1295.96" y2="719.58" stroke="#ff0000" stroke-width="3.3" stroke-linecap="butt"/><polygon points="1299.3,724.2 1290.17,719.07 1297.31,713.92" fill="#ff0000"/>
<line x1="1301.9" y1="719.3" x2="1356.1" y2="700.84" stroke="#ff0000" stroke-width="3.3" stroke-linecap="butt"/><polygon points="1361.5,699 1353.93,706.23 1351.09,697.9" fill="#ff0000"/>
<line x1="1360.2" y1="699.4" x2="1416.1" y2="732.68" stroke="#ff0000" stroke-width="3.3" stroke-linecap="butt"/><polygon points="1421,735.6 1410.59,734.52 1415.09,726.96" fill="#ff0000"/>
<g shape-rendering="crispEdges">
<line x1="1" y1="788.5" x2="1688" y2="788.5" stroke="#c0c0c0" stroke-width="1" stroke-dasharray="3,4"/>
<line x1="1" y1="839.5" x2="1688" y2="839.5" stroke="#c0c0c0" stroke-width="1" stroke-dasharray="3,4"/>
<line x1="1" y1="900.5" x2="1688" y2="900.5" stroke="#c0c0c0" stroke-width="1" stroke-dasharray="3,4"/>
</g>
<polyline points="1.5,826.62 9.5,832.2 17.5,823.57 25.5,814.44 33.5,836.76 41.5,833.21 49.5,835.49 57.5,832.2 65.5,849.44 73.5,838.03 81.5,839.3 89.5,834.22 97.5,828.39 105.5,831.18 113.5,831.18 121.5,832.45 129.5,836 137.5,840.06 145.5,840.06 153.5,853.24 161.5,840.56 169.5,842.59 177.5,840.56 185.5,836.25 193.5,833.46 201.5,825.6 209.5,822.31 217.5,829.91 225.5,831.69 233.5,839.3 241.5,834.99 249.5,828.65 257.5,836.25 265.5,825.35 273.5,816.47 281.5,825.35 289.5,825.35 297.5,822.31 305.5,829.66 313.5,828.39 321.5,832.2 329.5,830.42 337.5,828.39 345.5,826.11 353.5,825.35 361.5,831.18 369.5,830.42 377.5,830.42 385.5,833.46 393.5,844.37 401.5,846.4 409.5,861.36 417.5,849.44 425.5,856.29 433.5,860.09 441.5,834.22 449.5,819.52 457.5,814.44 465.5,805.82 473.5,799.99 481.5,795.68 489.5,784.27 497.5,787.82 505.5,784.27 513.5,787.82 521.5,784.27 529.5,783 537.5,778.43 545.5,790.61 553.5,804.3 561.5,811.4 569.5,806.58 577.5,806.33 585.5,801.26 593.5,792.38 601.5,804.3 609.5,799.99 617.5,795.42 625.5,795.42 633.5,804.3 641.5,800.5 649.5,805.31 657.5,808.36 665.5,806.33 673.5,804.3 681.5,825.35 689.5,822.81 697.5,819.01 705.5,817.23 713.5,824.08 721.5,822.31 729.5,823.32 737.5,818.25 745.5,820.28 753.5,821.54 761.5,823.32 769.5,819.52 777.5,833.46 785.5,832.2 793.5,828.65 801.5,828.65 809.5,827.38 817.5,827.38 825.5,817.23 833.5,797.45 841.5,803.29 849.5,802.02 857.5,800.5 865.5,827.38 873.5,828.39 881.5,819.01 889.5,810.13 897.5,801.26 905.5,799.99 913.5,807.09 921.5,805.06 929.5,798.72 937.5,792.38 945.5,812.16 953.5,820.28 961.5,815.2 969.5,808.1 977.5,811.4 985.5,817.23 993.5,815.97 1001.5,814.44 1009.5,814.44 1017.5,815.2 1025.5,844.37 1033.5,832.2 1041.5,844.37 1049.5,849.44 1057.5,834.22 1065.5,829.15 1073.5,827.38 1081.5,824.84 1089.5,823.32 1097.5,821.54 1105.5,808.36 1113.5,813.18 1121.5,814.44 1129.5,809.37 1137.5,812.67 1145.5,808.86 1153.5,801.26 1161.5,799.23 1169.5,799.23 1177.5,813.18 1185.5,808.86 1193.5,807.09 1201.5,818.25 1209.5,819.52 1217.5,814.44 1225.5,834.22 1233.5,839.3 1241.5,834.99 1249.5,826.11 1257.5,838.03 1265.5,847.41 1273.5,856.54 1281.5,845.13 1289.5,841.33 1297.5,852.65 1305.5,847.52 1313.5,849.31 1321.5,842.9 1329.5,835.2 1337.5,831.36 1345.5,833.15 1353.5,832.13 1361.5,824.18 1369.5,831.36 1377.5,842.13 1385.5,845.46 1393.5,844.18 1401.5,859.57 1409.5,864.7 1417.5,848.03" fill="none" stroke="#1e90ff" stroke-width="1"/>
<line x1="1352.8" y1="821.1" x2="1405.33" y2="857.93" stroke="#ff0000" stroke-width="3.3" stroke-linecap="butt"/><polygon points="1410,861.2 1399.7,859.35 1404.75,852.14" fill="#ff0000"/>
<line x1="1409.3" y1="860.8" x2="1440.8" y2="840.58" stroke="#ff0000" stroke-width="3.3" stroke-linecap="butt"/><polygon points="1445.6,837.5 1439.98,846.33 1435.23,838.93" fill="#ff0000"/>
<rect x="1689" y="47" width="2" height="1" fill="#000" shape-rendering="crispEdges"/><text transform="translate(1694,50.9) scale(1,1.09)" font-size="9.2" fill="#000" >30790.0</text>
<rect x="1689" y="80" width="2" height="1" fill="#000" shape-rendering="crispEdges"/><text transform="translate(1694,83.9) scale(1,1.09)" font-size="9.2" fill="#000" >30246.0</text>
<rect x="1689" y="113" width="2" height="1" fill="#000" shape-rendering="crispEdges"/><text transform="translate(1694,116.9) scale(1,1.09)" font-size="9.2" fill="#000" >29718.0</text>
<rect x="1689" y="245" width="2" height="1" fill="#000" shape-rendering="crispEdges"/><text transform="translate(1694,248.9) scale(1,1.09)" font-size="9.2" fill="#000" >27590.0</text>
<rect x="1689" y="278" width="2" height="1" fill="#000" shape-rendering="crispEdges"/><text transform="translate(1694,281.9) scale(1,1.09)" font-size="9.2" fill="#000" >27062.0</text>
<rect x="1689" y="311" width="2" height="1" fill="#000" shape-rendering="crispEdges"/><text transform="translate(1694,314.9) scale(1,1.09)" font-size="9.2" fill="#000" >26534.0</text>
<rect x="1689" y="344" width="2" height="1" fill="#000" shape-rendering="crispEdges"/><text transform="translate(1694,347.9) scale(1,1.09)" font-size="9.2" fill="#000" >26006.0</text>
<rect x="1689" y="377" width="2" height="1" fill="#000" shape-rendering="crispEdges"/><text transform="translate(1694,380.9) scale(1,1.09)" font-size="9.2" fill="#000" >25478.0</text>
<rect x="1689" y="410" width="2" height="1" fill="#000" shape-rendering="crispEdges"/><text transform="translate(1694,413.9) scale(1,1.09)" font-size="9.2" fill="#000" >24950.0</text>
<rect x="1689" y="443" width="2" height="1" fill="#000" shape-rendering="crispEdges"/><text transform="translate(1694,446.9) scale(1,1.09)" font-size="9.2" fill="#000" >24406.0</text>
<rect x="1689" y="476" width="2" height="1" fill="#000" shape-rendering="crispEdges"/><text transform="translate(1694,479.9) scale(1,1.09)" font-size="9.2" fill="#000" >23878.0</text>
<rect x="1689" y="509" width="2" height="1" fill="#000" shape-rendering="crispEdges"/><text transform="translate(1694,512.9) scale(1,1.09)" font-size="9.2" fill="#000" >23350.0</text>
<rect x="1689" y="542" width="2" height="1" fill="#000" shape-rendering="crispEdges"/><text transform="translate(1694,545.9) scale(1,1.09)" font-size="9.2" fill="#000" >22822.0</text>
<rect x="1689" y="575" width="2" height="1" fill="#000" shape-rendering="crispEdges"/><text transform="translate(1694,578.9) scale(1,1.09)" font-size="9.2" fill="#000" >22294.0</text>
<text transform="translate(1694,182.9) scale(1,1.09)" font-size="9.2" fill="#000" >28682.0</text>
<rect x="1690" y="125" width="41" height="11" fill="#ff0000" shape-rendering="crispEdges"/><text transform="translate(1694,134.4) scale(1,1.09)" font-size="9.2" fill="#fff" >29428.0</text>
<rect x="1690" y="141" width="41" height="11" fill="#ff0000" shape-rendering="crispEdges"/><text transform="translate(1694,150.4) scale(1,1.09)" font-size="9.2" fill="#fff" >29170.9</text>
<rect x="1690" y="158" width="41" height="11" fill="#000000" shape-rendering="crispEdges"/><text transform="translate(1694,167.4) scale(1,1.09)" font-size="9.2" fill="#fff" >28895.0</text>
<rect x="1690" y="168" width="41" height="11" fill="#32cd32" shape-rendering="crispEdges"/><text transform="translate(1694,177.4) scale(1,1.09)" font-size="9.2" fill="#fff" >28737.1</text>
<rect x="1690" y="184" width="41" height="11" fill="#0000ff" shape-rendering="crispEdges"/><text transform="translate(1694,193.4) scale(1,1.09)" font-size="9.2" fill="#fff" >28480.0</text>
<rect x="1690" y="208" width="41" height="11" fill="#0000ff" shape-rendering="crispEdges"/><text transform="translate(1694,217.4) scale(1,1.09)" font-size="9.2" fill="#fff" >28094.4</text>
<rect x="1683.5" y="129.5" width="4" height="4" fill="#fff" stroke="#ff0000" stroke-width="1" shape-rendering="crispEdges"/>
<rect x="1.5" y="129.5" width="4" height="4" fill="#fff" stroke="#ff0000" stroke-width="1" shape-rendering="crispEdges"/>
<rect x="1683.5" y="145.5" width="4" height="4" fill="#fff" stroke="#ff0000" stroke-width="1" shape-rendering="crispEdges"/>
<rect x="1.5" y="145.5" width="4" height="4" fill="#fff" stroke="#ff0000" stroke-width="1" shape-rendering="crispEdges"/>
<rect x="1683.5" y="188.5" width="4" height="4" fill="#fff" stroke="#0000ff" stroke-width="1" shape-rendering="crispEdges"/>
<rect x="1.5" y="188.5" width="4" height="4" fill="#fff" stroke="#0000ff" stroke-width="1" shape-rendering="crispEdges"/>
<text transform="translate(1692,591.4) scale(1,1.09)" font-size="9.2" fill="#000" >719.41</text>
<rect x="1689" y="582" width="2" height="1" fill="#000"/>
<rect x="1689" y="717" width="2" height="1" fill="#000" shape-rendering="crispEdges"/><text transform="translate(1692,720.9) scale(1,1.09)" font-size="9.2" fill="#000" >0.00</text>
<text transform="translate(1692,746.9) scale(1,1.09)" font-size="9.2" fill="#000" >-175.83</text>
<rect x="1689" y="749" width="2" height="1" fill="#000"/>
<text transform="translate(1692,762.9) scale(1,1.09)" font-size="9.2" fill="#000" >100</text>
<rect x="1689" y="754" width="2" height="1" fill="#000"/>
<text transform="translate(1691,791.9) scale(1,1.09)" font-size="9.2" fill="#000" >80</text>
<text transform="translate(1691,842.9) scale(1,1.09)" font-size="9.2" fill="#000" >50</text>
<text transform="translate(1691,903.9) scale(1,1.09)" font-size="9.2" fill="#000" >15</text>
<text transform="translate(1692,922.9) scale(1,1.09)" font-size="9.2" fill="#000" >0</text>
<rect x="1" y="926" width="1" height="4" fill="#000" shape-rendering="crispEdges"/>
<text transform="translate(1.3,939.2) scale(1,1.09)" font-size="9.2" fill="#000" >30 Aug 2020</text>
<rect x="65" y="926" width="1" height="4" fill="#000" shape-rendering="crispEdges"/>
<text transform="translate(64,939.2) scale(1,1.09)" font-size="9.2" fill="#000" >8 Sep 2020</text>
<rect x="129" y="926" width="1" height="4" fill="#000" shape-rendering="crispEdges"/>
<text transform="translate(128,939.2) scale(1,1.09)" font-size="9.2" fill="#000" >17 Sep 2020</text>
<rect x="193" y="926" width="1" height="4" fill="#000" shape-rendering="crispEdges"/>
<text transform="translate(192,939.2) scale(1,1.09)" font-size="9.2" fill="#000" >27 Sep 2020</text>
<rect x="257" y="926" width="1" height="4" fill="#000" shape-rendering="crispEdges"/>
<text transform="translate(256,939.2) scale(1,1.09)" font-size="9.2" fill="#000" >6 Oct 2020</text>
<rect x="321" y="926" width="1" height="4" fill="#000" shape-rendering="crispEdges"/>
<text transform="translate(320,939.2) scale(1,1.09)" font-size="9.2" fill="#000" >15 Oct 2020</text>
<rect x="385" y="926" width="1" height="4" fill="#000" shape-rendering="crispEdges"/>
<text transform="translate(384,939.2) scale(1,1.09)" font-size="9.2" fill="#000" >25 Oct 2020</text>
<rect x="449" y="926" width="1" height="4" fill="#000" shape-rendering="crispEdges"/>
<text transform="translate(448,939.2) scale(1,1.09)" font-size="9.2" fill="#000" >3 Nov 2020</text>
<rect x="513" y="926" width="1" height="4" fill="#000" shape-rendering="crispEdges"/>
<text transform="translate(512,939.2) scale(1,1.09)" font-size="9.2" fill="#000" >12 Nov 2020</text>
<rect x="577" y="926" width="1" height="4" fill="#000" shape-rendering="crispEdges"/>
<text transform="translate(576,939.2) scale(1,1.09)" font-size="9.2" fill="#000" >22 Nov 2020</text>
<rect x="641" y="926" width="1" height="4" fill="#000" shape-rendering="crispEdges"/>
<text transform="translate(640,939.2) scale(1,1.09)" font-size="9.2" fill="#000" >1 Dec 2020</text>
<rect x="705" y="926" width="1" height="4" fill="#000" shape-rendering="crispEdges"/>
<text transform="translate(704,939.2) scale(1,1.09)" font-size="9.2" fill="#000" >10 Dec 2020</text>
<rect x="769" y="926" width="1" height="4" fill="#000" shape-rendering="crispEdges"/>
<text transform="translate(768,939.2) scale(1,1.09)" font-size="9.2" fill="#000" >20 Dec 2020</text>
<rect x="833" y="926" width="1" height="4" fill="#000" shape-rendering="crispEdges"/>
<text transform="translate(832,939.2) scale(1,1.09)" font-size="9.2" fill="#000" >29 Dec 2020</text>
<rect x="897" y="926" width="1" height="4" fill="#000" shape-rendering="crispEdges"/>
<text transform="translate(896,939.2) scale(1,1.09)" font-size="9.2" fill="#000" >8 Jan 2021</text>
<rect x="961" y="926" width="1" height="4" fill="#000" shape-rendering="crispEdges"/>
<text transform="translate(960,939.2) scale(1,1.09)" font-size="9.2" fill="#000" >18 Jan 2021</text>
<rect x="1025" y="926" width="1" height="4" fill="#000" shape-rendering="crispEdges"/>
<text transform="translate(1024,939.2) scale(1,1.09)" font-size="9.2" fill="#000" >27 Jan 2021</text>
<rect x="1089" y="926" width="1" height="4" fill="#000" shape-rendering="crispEdges"/>
<text transform="translate(1088,939.2) scale(1,1.09)" font-size="9.2" fill="#000" >5 Feb 2021</text>
<rect x="1153" y="926" width="1" height="4" fill="#000" shape-rendering="crispEdges"/>
<text transform="translate(1152,939.2) scale(1,1.09)" font-size="9.2" fill="#000" >15 Feb 2021</text>
<rect x="1217" y="926" width="1" height="4" fill="#000" shape-rendering="crispEdges"/>
<text transform="translate(1216,939.2) scale(1,1.09)" font-size="9.2" fill="#000" >24 Feb 2021</text>
<rect x="1281" y="926" width="1" height="4" fill="#000" shape-rendering="crispEdges"/>
<text transform="translate(1280,939.2) scale(1,1.09)" font-size="9.2" fill="#000" >5 Mar 2021</text>
<rect x="1345" y="926" width="1" height="4" fill="#000" shape-rendering="crispEdges"/>
<text transform="translate(1344,939.2) scale(1,1.09)" font-size="9.2" fill="#000" >15 Mar 2021</text>
<rect x="1409" y="926" width="1" height="4" fill="#000" shape-rendering="crispEdges"/>
<text transform="translate(1408,939.2) scale(1,1.09)" font-size="9.2" fill="#000" >24 Mar 2021</text>
<text transform="translate(5,592.8) scale(1,1.09)" font-size="9.2" fill="#000" >MACD(12,26,9) -135.14 3.82</text>
<text transform="translate(5,764.8) scale(1,1.09)" font-size="9.2" fill="#000" >RSI(14) 45.8333</text>
<polygon points="4,36 11,36 7.5,32" fill="#000"/>
<text transform="translate(16,37.2) scale(1,1.09)" font-size="9.2" fill="#000" xml:space="preserve" textLength="206.5" lengthAdjust="spacingAndGlyphs">JPN225-,Daily  28272.5 28900.0 28222.5 28895.0</text>
<path d="M4.5,45.5 H55.5 V69.5 H112.5 V108.5 H4.5 Z" fill="url(#rg)" stroke="#b81414" stroke-width="1"/><path d="M171.5,45.5 H222.5 V108.5 H115.5 V69.5 H171.5 Z" fill="url(#rg)" stroke="#b81414" stroke-width="1"/><rect x="8" y="68" width="44" height="1" fill="#a00808" shape-rendering="crispEdges"/><rect x="8" y="69" width="44" height="1" fill="#ff6a6a" shape-rendering="crispEdges"/><rect x="175" y="68" width="44" height="1" fill="#a00808" shape-rendering="crispEdges"/><rect x="175" y="69" width="44" height="1" fill="#ff6a6a" shape-rendering="crispEdges"/><text x="16.4" y="61" font-size="11.8" fill="#fff" textLength="25.5" lengthAdjust="spacingAndGlyphs">SELL</text><text x="184.7" y="61" font-size="11.8" fill="#fff" textLength="22.8" lengthAdjust="spacingAndGlyphs">BUY</text><text x="20" y="100.2" font-size="12.5" font-weight="bold" fill="#fff">28893</text><text x="130" y="100.2" font-size="12.5" font-weight="bold" fill="#fff">28916</text><rect x="59.3" y="96.3" width="4" height="4" rx="1.2" fill="#fff"/><rect x="170.5" y="96.3" width="4" height="4" rx="1.2" fill="#fff"/><text transform="translate(65.6,100.2) scale(0.8,1)" font-size="34" fill="#fff">5</text><text transform="translate(177.1,100.2) scale(0.8,1)" font-size="34" fill="#fff">5</text><rect x="58.5" y="45.5" width="110" height="21" fill="#fff" stroke="#a8a8b4" stroke-width="1" shape-rendering="crispEdges"/><rect x="59.5" y="46.5" width="19" height="19" fill="url(#bg)" stroke="#e8e8e8" stroke-width="1" shape-rendering="crispEdges"/><rect x="79" y="46" width="1" height="20" fill="#a8a8b4" shape-rendering="crispEdges"/><rect x="148.5" y="46.5" width="19" height="19" fill="url(#bg)" stroke="#e8e8e8" stroke-width="1" shape-rendering="crispEdges"/><rect x="147" y="46" width="1" height="20" fill="#a8a8b4" shape-rendering="crispEdges"/><polygon points="66.2,54.2 71,54.2 68.6,57.2" fill="#4a62c8"/><polygon points="155,57 160.4,57 157.7,54" fill="#4a62c8"/><text x="144" y="59.8" font-size="12" fill="#000" text-anchor="end">1.00</text>
<g><rect x="0" y="0" width="1735" height="21" fill="#f0f0f0"/><rect x="0" y="21" width="1735" height="1" fill="#a2a2a2" shape-rendering="crispEdges"/><rect x="0" y="22" width="1735" height="1" fill="#696969" shape-rendering="crispEdges"/><rect x="-1.5" y="2.5" width="12" height="13" rx="1" fill="#fff" stroke="#3f74c8" stroke-width="1.2"/><rect x="2.5" y="5" width="7" height="0.8" fill="#9db8e8"/><rect x="2.5" y="7.5" width="7" height="0.8" fill="#9db8e8"/><rect x="2.5" y="10" width="7" height="0.8" fill="#9db8e8"/><rect x="2.5" y="12.5" width="7" height="0.8" fill="#9db8e8"/><rect x="0.5" y="4.5" width="1.3" height="1.3" fill="#e02020"/><rect x="0.5" y="7" width="1.3" height="1.3" fill="#222"/><rect x="0.5" y="9.5" width="1.3" height="1.3" fill="#e02020"/><rect x="24.5" y="1.5" width="11.5" height="13" fill="#f6f4ee" stroke="#b8b0a0" stroke-width="1"/><path d="M27,4 v7 M27,7 h3 M33,3.5 v7 M33,6 h-2" stroke="#666" stroke-width="1" fill="none"/><circle cx="32" cy="9.5" r="4.6" fill="#cfe0f4" fill-opacity="0.75" stroke="#7fa6dc" stroke-width="1.3"/><line x1="35.6" y1="13" x2="40.8" y2="17.6" stroke="#c89a28" stroke-width="2.2" stroke-linecap="round"/><rect x="49" y="0" width="1" height="19" fill="#a0a0a0" shape-rendering="crispEdges"/><path d="M59.5,2.5 h8 l4,4 v8 h-12 z" fill="#fbfbfb" stroke="#8a8a8a" stroke-width="1"/><path d="M67.5,2.5 v4 h4" fill="none" stroke="#8a8a8a" stroke-width="1"/><rect x="61.5" y="4.5" width="3" height="1.5" fill="#9a9a9a"/><rect x="61.5" y="8" width="5" height="1" fill="#9a9a9a"/><rect x="61.5" y="10.5" width="4" height="1" fill="#9a9a9a"/><path d="M67.2,7.4 h3.4 v4 h4 v3.4 h-4 v4 h-3.4 v-4 h-4 v-3.4 h4 z" fill="#22c322" stroke="#0a8a0a" stroke-width="0.8"/><text x="78" y="12.2" font-size="12" fill="#000" style="font-family:'Liberation Sans','Noto Sans CJK SC',sans-serif">新订单</text><path d="M126.5,11.5 l6.5,-9 l9,5.2 l-6,9.3 z" fill="#e8b830" stroke="#a87a10" stroke-width="1"/><path d="M128,11 l5.5,-7.5 l4,2.3" fill="none" stroke="#fbe28a" stroke-width="1.2"/><path d="M126.5,11.5 l9.5,5.5 l6,-9.3" fill="none" stroke="#8a6208" stroke-width="1.3"/><rect x="156.5" y="1.5" width="10" height="10" fill="#2f8fe8" stroke="#1a60b8" stroke-width="1"/><rect x="159.5" y="3.5" width="5.5" height="2" fill="#bfe0ff"/><rect x="160.5" y="7" width="4.5" height="1.2" fill="#bfe0ff"/><path d="M156.5,16.5 a3,3 0 0 1 0.5,-6 a3.8,3.8 0 0 1 7,-0.8 a3.2,3.2 0 0 1 4,6.8 z" fill="#e8eef8" stroke="#7f98c0" stroke-width="1"/><circle cx="190" cy="9" r="7.3" fill="none" stroke="#a8c8ea" stroke-width="1.6"/><circle cx="190" cy="9" r="4.4" fill="none" stroke="#6ea0dc" stroke-width="1.5"/><path d="M190,9 L197.3,9 A7.3,7.3 0 0 1 190,16.6 Z" fill="#7cc47c" fill-opacity="0.75"/><circle cx="190" cy="8.8" r="1.9" fill="#2a5ad0"/><line x1="190.3" y1="9" x2="190.3" y2="16.8" stroke="#1e9a1e" stroke-width="1.4"/><path d="M211,8.5 l7.5,8 l6,-6.5 v-3 z" fill="#f3d24a" stroke="#c8a020" stroke-width="0.8"/><ellipse cx="217" cy="6.2" rx="7.6" ry="2.6" fill="#4f9ed6" stroke="#2e78b4" stroke-width="0.7"/><path d="M212.8,5.6 q4.2,-8 8.4,0 z" fill="#5aaade" stroke="#2e78b4" stroke-width="0.7"/><circle cx="221.6" cy="12.8" r="4.2" fill="#d8281c" stroke="#a81408" stroke-width="0.6"/><rect x="219.9" y="11.1" width="3.4" height="3.4" fill="#fff"/><text x="230.6" y="12.2" font-size="11.9" fill="#000" textLength="47.1" lengthAdjust="spacing" style="font-family:'Liberation Sans','Noto Sans CJK SC',sans-serif">自动交易</text><rect x="285" y="0" width="1" height="19" fill="#a0a0a0" shape-rendering="crispEdges"/><rect x="289" y="1" width="3" height="1" fill="#b4b4b4" shape-rendering="crispEdges"/><rect x="289" y="3" width="3" height="1" fill="#b4b4b4" shape-rendering="crispEdges"/><rect x="289" y="5" width="3" height="1" fill="#b4b4b4" shape-rendering="crispEdges"/><rect x="289" y="7" width="3" height="1" fill="#b4b4b4" shape-rendering="crispEdges"/><rect x="289" y="9" width="3" height="1" fill="#b4b4b4" shape-rendering="crispEdges"/><rect x="289" y="11" width="3" height="1" fill="#b4b4b4" shape-rendering="crispEdges"/><rect x="289" y="13" width="3" height="1" fill="#b4b4b4" shape-rendering="crispEdges"/><rect x="289" y="15" width="3" height="1" fill="#b4b4b4" shape-rendering="crispEdges"/><rect x="289" y="17" width="3" height="1" fill="#b4b4b4" shape-rendering="crispEdges"/><path d="M303.5,17 V3.5 M301,14.5 H314.5" stroke="#555" stroke-width="1.2" fill="none"/><path d="M301.8,5.8 l1.7,-2.6 l1.7,2.6 z M313,12.8 l2.4,1.7 l-2.4,1.7 z" fill="#555"/><path d="M310.5,4.5 V12 M310.5,5.2 h2.3 M310.5,11.3 h-2.6" stroke="#1a9a1a" stroke-width="1.4" fill="none"/><rect x="323" y="0" width="1" height="19" fill="#a0a0a0" shape-rendering="crispEdges"/><rect x="324" y="0" width="24" height="19" fill="url(#chk)"/><path d="M331.5,17 V3.5 M329,14.5 H342.5" stroke="#555" stroke-width="1.2" fill="none"/><path d="M329.8,5.8 l1.7,-2.6 l1.7,2.6 z M341,12.8 l2.4,1.7 l-2.4,1.7 z" fill="#555"/><line x1="337.5" y1="1.2" x2="337.5" y2="13" stroke="#0a8a0a" stroke-width="1.2"/><rect x="335.3" y="3.5" width="4.4" height="7" rx="0.6" fill="#2fd22f" stroke="#0a8a0a" stroke-width="0.8"/><path d="M359.5,17 V3.5 M357,14.5 H370.5" stroke="#555" stroke-width="1.2" fill="none"/><path d="M357.8,5.8 l1.7,-2.6 l1.7,2.6 z M369,12.8 l2.4,1.7 l-2.4,1.7 z" fill="#555"/><path d="M358.5,12 q2.5,-2 4.5,-4.8 q1.8,-2.4 3.8,-0.2 q2.2,2.6 4.2,3.2" stroke="#1a9a1a" stroke-width="1.2" fill="none"/><rect x="380" y="0" width="1" height="19" fill="#a0a0a0" shape-rendering="crispEdges"/><line x1="398.8" y1="11" x2="403.6" y2="15.8" stroke="#d0a028" stroke-width="2.4" stroke-linecap="round"/><circle cx="394.8" cy="6.8" r="5.3" fill="#d4e4f6" stroke="#3a76cc" stroke-width="1.3"/><rect x="392" y="6" width="5.6" height="1.7" fill="#3a76cc"/><rect x="393.95" y="4" width="1.7" height="5.6" fill="#3a76cc"/><line x1="427.3" y1="11" x2="432.1" y2="15.8" stroke="#d0a028" stroke-width="2.4" stroke-linecap="round"/><circle cx="423.3" cy="6.8" r="5.3" fill="#d4e4f6" stroke="#3a76cc" stroke-width="1.3"/><rect x="420.5" y="6" width="5.6" height="1.7" fill="#3a76cc"/><rect x="445" y="1" width="7.8" height="7.8" rx="0.8" fill="#3fae2f"/><rect x="446" y="3.6" width="5.8" height="4.2" fill="#fff"/><rect x="447" y="4.8" width="3.8" height="1" fill="#3fae2f" fill-opacity="0.6"/><rect x="453.3" y="1" width="7.8" height="7.8" rx="0.8" fill="#2f62d8"/><rect x="454.3" y="3.6" width="5.8" height="4.2" fill="#fff"/><rect x="455.3" y="4.8" width="3.8" height="1" fill="#2f62d8" fill-opacity="0.6"/><rect x="445" y="9.3" width="7.8" height="7.8" rx="0.8" fill="#2f62d8"/><rect x="446" y="11.9" width="5.8" height="4.2" fill="#fff"/><rect x="447" y="13.100000000000001" width="3.8" height="1" fill="#2f62d8" fill-opacity="0.6"/><rect x="453.3" y="9.3" width="7.8" height="7.8" rx="0.8" fill="#3fae2f"/><rect x="454.3" y="11.9" width="5.8" height="4.2" fill="#fff"/><rect x="455.3" y="13.100000000000001" width="3.8" height="1" fill="#3fae2f" fill-opacity="0.6"/><rect x="470" y="0" width="1" height="19" fill="#a0a0a0" shape-rendering="crispEdges"/><rect x="475" y="0" width="1" height="19" fill="#a0a0a0" shape-rendering="crispEdges"/><rect x="476" y="0" width="24" height="19" fill="url(#chk)"/><path d="M483.5,17 V3.5 M481,14.5 H494.5" stroke="#555" stroke-width="1.2" fill="none"/><path d="M481.8,5.8 l1.7,-2.6 l1.7,2.6 z M493,12.8 l2.4,1.7 l-2.4,1.7 z" fill="#555"/><path d="M488.5,5 l4,3.6 l-4,3.6 z" fill="#7fdc7f" stroke="#1a9a1a" stroke-width="1.1"/><rect x="503" y="0" width="1" height="19" fill="#a0a0a0" shape-rendering="crispEdges"/><rect x="504" y="0" width="24" height="19" fill="url(#chk)"/><path d="M511.5,17 V3.5 M509,14.5 H522.5" stroke="#555" stroke-width="1.2" fill="none"/><path d="M509.8,5.8 l1.7,-2.6 l1.7,2.6 z M521,12.8 l2.4,1.7 l-2.4,1.7 z" fill="#555"/><line x1="517.6" y1="3" x2="517.6" y2="13" stroke="#2a78b4" stroke-width="1.2"/><path d="M518.6,8.3 l3,-2.2 v1.5 h1.6 v1.4 h-1.6 v1.5 z" fill="#d85a14"/><rect x="532" y="0" width="1" height="19" fill="#a0a0a0" shape-rendering="crispEdges"/><path d="M542.5,2.5 h8 l4,4 v8 h-12 z" fill="#fbfbfb" stroke="#9a9a9a" stroke-width="1"/><path d="M550.5,2.5 v4 h4" fill="none" stroke="#9a9a9a" stroke-width="1"/><rect x="544.5" y="4.5" width="3" height="1.5" fill="#9a9a9a"/><rect x="544.5" y="8" width="5" height="1" fill="#9a9a9a"/><rect x="544.5" y="10.5" width="4" height="1" fill="#9a9a9a"/><path d="M550.2,7.4 h3.4 v4 h4 v3.4 h-4 v4 h-3.4 v-4 h-4 v-3.4 h4 z" fill="#22c322" stroke="#0a8a0a" stroke-width="0.8"/><polygon points="563.8,8.2 569.4,8.2 566.5999999999999,11.399999999999999" fill="#000"/><circle cx="587.8" cy="9" r="6.9" fill="#eef2f8" stroke="#1c64c8" stroke-width="2.8"/><path d="M587.8,4.5 V9.2 H591" stroke="#333" stroke-width="1.2" fill="none"/><polygon points="602.7,8.2 608.3000000000001,8.2 605.5,11.399999999999999" fill="#000"/><rect x="619.5" y="2.5" width="15" height="13.5" fill="#fff" stroke="#3a76cc" stroke-width="1.2"/><rect x="619.5" y="2.5" width="15" height="2" fill="#5a92e0"/><line x1="619.5" y1="10" x2="634.5" y2="10" stroke="#3a76cc" stroke-width="1"/><path d="M621,8.3 l3,-1 l2,-1 l2,1.2 l3,-0.6 l2,-1" stroke="#a82a10" stroke-width="1.2" fill="none"/><path d="M622,13.8 l3,-0.3 l2,-1.2 l2,0.6 l2,-1.8 l2,2.2" stroke="#1a9a1a" stroke-width="1.2" fill="none"/><polygon points="642,8.2 647.6,8.2 644.8,11.399999999999999" fill="#000"/><rect x="653" y="0" width="1" height="19" fill="#a0a0a0" shape-rendering="crispEdges"/><rect x="657" y="1" width="3" height="1" fill="#b4b4b4" shape-rendering="crispEdges"/><rect x="657" y="3" width="3" height="1" fill="#b4b4b4" shape-rendering="crispEdges"/><rect x="657" y="5" width="3" height="1" fill="#b4b4b4" shape-rendering="crispEdges"/><rect x="657" y="7" width="3" height="1" fill="#b4b4b4" shape-rendering="crispEdges"/><rect x="657" y="9" width="3" height="1" fill="#b4b4b4" shape-rendering="crispEdges"/><rect x="657" y="11" width="3" height="1" fill="#b4b4b4" shape-rendering="crispEdges"/><rect x="657" y="13" width="3" height="1" fill="#b4b4b4" shape-rendering="crispEdges"/><rect x="657" y="15" width="3" height="1" fill="#b4b4b4" shape-rendering="crispEdges"/><rect x="657" y="17" width="3" height="1" fill="#b4b4b4" shape-rendering="crispEdges"/><rect x="663" y="0" width="1" height="19" fill="#a0a0a0" shape-rendering="crispEdges"/><rect x="664" y="0" width="24" height="19" fill="url(#chk)"/><path d="M671,2.6 V14 l2.7,-2.6 l2.2,5 l1.9,-0.9 l-2.2,-4.8 h3.8 z" fill="#4a4a4a"/><path d="M703.5,2.5 V8 M703.5,11 V17 M696,9.5 H701.5 M705.5,9.5 H711" stroke="#555" stroke-width="1.2" fill="none"/><rect x="703" y="9" width="1" height="1" fill="#555"/><rect x="720" y="0" width="1" height="19" fill="#a0a0a0" shape-rendering="crispEdges"/><line x1="737.5" y1="3" x2="737.5" y2="16" stroke="#555" stroke-width="1.2"/><line x1="760" y1="9.5" x2="772" y2="9.5" stroke="#555" stroke-width="1.2"/><line x1="787.7" y1="15.7" x2="800.4" y2="3.7" stroke="#555" stroke-width="1.2"/><path d="M814,12.5 L826.5,2 M815.3,14.3 L828,3.8 M816.6,16 L829,5.6 M817,13.8 l2.2,-6.5 M820.3,11.5 l2.2,-6.5 M823.6,9 l2.2,-6.5" stroke="#555" stroke-width="0.9" fill="none"/><text x="825" y="17.3" font-size="6.5" font-weight="bold" fill="#444">E</text><line x1="843" y1="2.5" x2="856" y2="2.5" stroke="#555" stroke-width="1" stroke-dasharray="1,1"/><line x1="843" y1="5.5" x2="856" y2="5.5" stroke="#555" stroke-width="1" stroke-dasharray="1,1"/><line x1="843" y1="8.5" x2="856" y2="8.5" stroke="#555" stroke-width="1" stroke-dasharray="1,1"/><line x1="843" y1="13.5" x2="851" y2="13.5" stroke="#555" stroke-width="1" stroke-dasharray="1,1"/><text x="852.8" y="17.5" font-size="6.5" font-weight="bold" fill="#444">F</text><text x="873.4" y="14.2" font-size="12.5" fill="#555">A</text><rect x="899.8" y="3.2" width="11.6" height="12" fill="none" stroke="#555" stroke-width="1" stroke-dasharray="1,1"/><text x="901.8" y="13.8" font-size="11" font-weight="bold" fill="#555">T</text><path d="M927.5,6 l3.2,-3 l3.2,3 l-3.2,2.2 z M935,12.5 l3.2,-2.2 l3.2,2.2 l-3.2,3 z" fill="#444"/><path d="M930,11.8 l2,2 l3.5,-5.5" stroke="#444" stroke-width="1.2" fill="none"/><polygon points="948,8.2 953.6,8.2 950.8,11.399999999999999" fill="#000"/><rect x="959" y="0" width="1" height="19" fill="#a0a0a0" shape-rendering="crispEdges"/><rect x="963" y="1" width="3" height="1" fill="#b4b4b4" shape-rendering="crispEdges"/><rect x="963" y="3" width="3" height="1" fill="#b4b4b4" shape-rendering="crispEdges"/><rect x="963" y="5" width="3" height="1" fill="#b4b4b4" shape-rendering="crispEdges"/><rect x="963" y="7" width="3" height="1" fill="#b4b4b4" shape-rendering="crispEdges"/><rect x="963" y="9" width="3" height="1" fill="#b4b4b4" shape-rendering="crispEdges"/><rect x="963" y="11" width="3" height="1" fill="#b4b4b4" shape-rendering="crispEdges"/><rect x="963" y="13" width="3" height="1" fill="#b4b4b4" shape-rendering="crispEdges"/><rect x="963" y="15" width="3" height="1" fill="#b4b4b4" shape-rendering="crispEdges"/><rect x="963" y="17" width="3" height="1" fill="#b4b4b4" shape-rendering="crispEdges"/><text x="974.7" y="13" font-size="9.3" fill="#4a4a4a" textLength="12.6" lengthAdjust="spacingAndGlyphs">M1</text><text x="1002.6" y="13" font-size="9.3" fill="#4a4a4a" textLength="12.4" lengthAdjust="spacingAndGlyphs">M5</text><text x="1028.9" y="13" font-size="9.3" fill="#4a4a4a" textLength="17.3" lengthAdjust="spacingAndGlyphs">M15</text><text x="1056.7" y="13" font-size="9.3" fill="#4a4a4a" textLength="17.4" lengthAdjust="spacingAndGlyphs">M30</text><text x="1087.7" y="13" font-size="9.3" fill="#4a4a4a" textLength="11.4" lengthAdjust="spacingAndGlyphs">H1</text><text x="1114.8" y="13" font-size="9.3" fill="#4a4a4a" textLength="12.1" lengthAdjust="spacingAndGlyphs">H4</text><rect x="1137" y="0" width="1" height="19" fill="#a0a0a0" shape-rendering="crispEdges"/><rect x="1138" y="0" width="24" height="19" fill="url(#chk)"/><text x="1143.8" y="13" font-size="9.3" fill="#4a4a4a" textLength="11.3" lengthAdjust="spacingAndGlyphs">D1</text><text x="1171.3" y="13" font-size="9.3" fill="#4a4a4a" textLength="13.7" lengthAdjust="spacingAndGlyphs">W1</text><text x="1197.9" y="13" font-size="9.3" fill="#4a4a4a" textLength="14.1" lengthAdjust="spacingAndGlyphs">MN</text><rect x="1220" y="0" width="1" height="19" fill="#a0a0a0" shape-rendering="crispEdges"/><circle cx="1690.5" cy="6.3" r="3.6" fill="#f8fbff" stroke="#2a5ad0" stroke-width="1.3"/><line x1="1687.8" y1="9" x2="1683.2" y2="13.8" stroke="#2a5ad0" stroke-width="2" stroke-linecap="round"/><path d="M1707.5,9.5 a4.5,3.6 0 0 1 9,0 a4.5,3.6 0 0 1 -5.5,3.4 l-2,2.4 l0.2,-3 a4,3.4 0 0 1 -1.7,-2.8 z" fill="#eeeef8" stroke="#a8a8b0" stroke-width="0.8"/><circle cx="1721.3" cy="6.6" r="7.9" fill="#d8301c"/><text x="1721.3" y="10.8" font-size="11.5" fill="#fff" text-anchor="middle">1</text></g>
</svg>
</body></html>
